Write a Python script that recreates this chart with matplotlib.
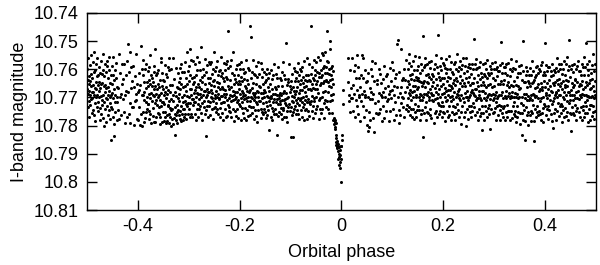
import numpy as np
import matplotlib
matplotlib.use("Agg")
import matplotlib.pyplot as plt
from matplotlib.ticker import FormatStrFormatter

# light curve, in phase bins of 0.01 starting at -0.50
# each token "dmmm": phase = bin start + d*0.001, magnitude = 10.7 + mmm/10000
bin_start = -0.50
bin_width = 0.01
lc_bins = [
    "0598 0671 1640 1735 2560 2688 3712 3625 4651 4770 5585 5693 6642 6728 7660 7548 8705 8618 9680 9755 3676",
    "0632 0702 1575 1681 2744 2656 3610 3690 4763 4540 5668 5721 6604 6785 7646 7700 8582 8671 9733 9625",
    "0690 0561 1655 1748 2620 2717 3676 3592 4700 4644 5780 5612 6668 6739 7571 7696 8652 8760 9618 9709",
    "0648 0727 1603 1690 2772 2545 3661 3718 4625 4800 5583 5682 6741 6655 7702 7610 8788 8667 9590 9731",
    "0572 0707 1665 1762 2633 2690 3745 3603 4679 4556 5721 5649 6776 6700 7620 7690 8852 8734 9651 9588",
    "0683 0740 1619 1770 2701 2556 3640 3796 4836 4672 5715 5603 6690 6752 7633 7579 8718 8662 9780 9698",
    "0668 1745 2547 3776 4700 5615 6689 7762 8580 9651",
    "0707 1636 2582 3751 4693 5790 6621 7679 8768 9570",
    "0511 1681 2760 3610 4719 5792 6668 7594 8735 9643 4540",
    "0590 1733 2663 3799 4712 5625 6547 7688 8776 9654 6708",
    "0781 1680 2612 3736 4797 5655 6760 7516 8690 9600 3674 8800",
    "0620 0693 1752 1567 2709 2646 3786 3680 4601 5716 5752 6668 6580 7697 8741 8645 9606 9725 4772",
    "0660 0722 1593 1777 2688 2749 3550 3654 4701 4758 5619 5683 6790 7660 7712 8632 9690 9766 1640",
    "0645 0738 1671 1787 2589 2695 3720 3788 4661 4530 5708 5621 6689 6770 7615 8727 8672 9754 9654 2610",
    "0700 0603 1662 1759 2690 2735 3796 3640 4709 4771 5576 5683 6730 7658 7788 8716 8612 9752 9671 5560",
    "0639 0718 1723 1784 2642 2690 3586 3768 4681 4752 5617 5791 6703 6665 7764 7629 8689 8784 9732 9594",
    "0674 0728 1758 1790 2603 2712 3771 3655 4739 4682 5800 5744 6600 6705 7777 8655 8741 9796 9692 1560",
    "0712 0559 1773 1636 2759 2834 3681 3734 4780 4596 5695 5763 6751 6663 7728 7790 8615 8704 9667 9745",
    "0644 0714 1761 1688 2597 2749 3776 3672 4580 4730 5785 5651 6697 6758 7610 8716 8781 9662 9743 2630",
    "0693 0611 1741 1769 2660 2712 3574 3758 4676 4722 5630 5778 6696 7731 7654 8758 8607 9719 6540",
    "0642 0697 1743 1590 2768 2670 3721 3621 4691 4758 5567 5672 6706 6771 7630 8705 8653 9572 9728 3530",
    "0627 0686 1718 1645 2759 2583 3674 3715 4780 4620 5665 5700 6558 6741 7683 7604 8724 8654 9768 9688",
    "0662 0707 1575 1742 2637 2688 3731 3604 4672 4520 5754 5698 6626 6721 7645 7780 8690 8598 9733 9676",
    "0619 0713 1676 1758 2563 2652 3700 3744 4837 4610 5690 5730 6671 6585 7769 7631 8712 8680 9650 9576",
    "0682 0729 1630 1583 2716 2762 3655 3700 4574 4673 5741 5618 6702 6685 7643 7777 8600 8712 9638 9739",
    "0540 0661 1703 1735 2606 2690 3752 3677 4594 4721 5646 5570 6741 6700 7620 7662 8760 8689 9607 9703",
    "0649 0705 1671 1768 2602 2739 3694 3624 4558 4720 5663 5754 6696 6614 7781 7671 8631 8716 9579 9688",
    "0717 0641 1602 1700 2742 2674 3583 3769 4689 4627 5709 5765 6636 6572 7463 7728 8661 8597 9701 9748",
    "0672 0736 1590 1690 2753 2638 3712 3569 4664 4769 5613 5695 6740 6676 7538 7710 8651 8784 9690 9622",
    "0705 0634 1682 1750 2600 2697 3767 3644 4717 4584 5681 5741 6622 6708 7773 7653 8580 8724 9670 9642",
    "0601 0689 1732 1652 2704 2780 3627 3576 4676 4739 5715 5642 6694 6598 7755 7683 8636 8707 9615 9773",
    "0659 0738 1690 1610 2780 2668 3701 3568 4744 4639 5678 5712 6595 6766 7654 7697 8731 9682 9604",
    "0446 0675 1712 1762 2631 2698 3487 3735 4666 4610 5757 5701 6569 6684 7736 7650 8693 8778 9617 9711",
    "0700 0746 1621 1686 2765 2589 3718 3652 4676 4787 5627 5725 6700 6573 7680 7744 8660 9714 9618",
    "0714 0662 1577 1743 2685 2774 3629 3704 4751 4600 5686 5719 6653 6758 7609 7700 8742 8675 9646",
    "0682 0753 1640 1716 2772 2616 3694 3730 4598 4763 5664 5697 6745 6630 7712 7678 8615 8815 9702",
    "0651 0726 1694 1768 2603 2701 3739 3670 4782 4635 5717 5622 6749 6689 7580 8706 8760 9662",
    "0740 0689 1617 1716 2669 2758 3834 3705 4630 4690 5767 5724 6661 6593 7704 7751 8690 9631 9723",
    "0683 0712 1759 1638 2692 2737 3611 3776 4708 4661 5739 5573 6685 6744 7620 7711 8768 8679 9707",
    "0719 0634 1686 1769 2726 2507 3657 3749 4702 4788 5634 5698 6733 6647 7722 7581 8680 8747 9659",
    "0733 0672 1841 1641 2712 2762 3618 3696 4751 4664 5841 5717 6596 6742 7678 7700 8643 8731 9606 9689",
    "0711 0633 1760 1678 2610 2721 3662 3745 4701 4577 5758 5641 6686 6727 7622 7777 8675 8599 9710 9652",
    "0640 0702 1744 1607 2673 2768 3717 3591 4626 4697 5736 5648 6722 6780 7572 7663 8711 8637 9744 9680",
    "0619 0694 1743 1661 2716 2559 3642 3778 4706 4620 5672 5749 6638 6717 7581 7765 8670 8722 9642",
    "0447 0673 1616 1712 2652 2750 3592 3695 4731 4630 5666 5773 6713 6568 7639 7702 8757 8620 9670 9604",
    "0652 0700 1575 1740 2610 2670 3731 3642 4555 4683 5777 5628 6708 6612 7741 7655 8566 8701 9626 9755",
    "0602 0650 1700 1544 2621 2742 3680 3597 4548 4648 5720 5641 6587 6774 7615 7678 8710 8540 9642 9733",
    "0638 0593 1570 1714 2463 2615 3645 3741 4576 4680 5617 5757 6600 6661 7530 7712 8499 8638 9595 9690",
    "0620 0662 1708 1588 2634 2755 3689 3779 4608 4651 5781 6772 6795 7806 7788 8779 8812 9858 9833 9790",
    "0846 0869 1880 1862 2855 2877 3873 3890 4864 4920 5901 5878 6940 6912 7886 7931 8950 8905 9999 9871",
    "0873 0918 1852 1833 3674 3724",
    "3645 4690 5712 6604 7752 8668 9701 2560",
    "0560 1702 2655 3748 4607 5688 6770 7584 8710 9631",
    "0675 1730 2593 3758 4690 5631 6785 7664 8712 9620 0548 5700",
    "0550 1688 2732 3633 4770 5677 6602 7700 8745 9645 2560 7690",
    "0797 1641 2700 3613 4752 5807 6668 7705 8600 9680 3820 7781",
    "0706 1624 2775 3689 4822 5641 6720 7578 8757 9653 1570",
    "0640 1712 2758 3598 4685 5741 6617 7692 8650 9785 4755",
    "0700 1636 2732 3590 4773 5668 6698 7750 8625 9712 2680",
    "0618 1705 2660 3785 4688 5596 6748 7641 8702 9574 6676",
    "0675 1740 2604 3692 4780 5630 6717 7618 8762 9511 4660",
    "0663 1700 2496 3745 4610 5761 6683 7527 8721 9638 3790 8662",
    "0698 1633 2736 3771 4600 5680 6740 7567 8663 9726 1703 5640",
    "0642 0704 1598 1750 2683 2651 3735 3578 4690 4622 5762 5674 6587 6709 7635 7741 8680 9617 9771 3545",
    "0659 0743 1570 1700 2637 2776 3676 3602 4723 4658 5554 5752 6690 6627 7771 7700 8602 8672 9745 9640",
    "0630 0729 1664 1587 2744 2700 3641 3556 4687 4780 5612 5710 6646 6758 7690 7583 8745 8660 9604 9710",
    "0842 0482 1650 1700 2592 2756 3688 3641 4560 4735 5664 5586 6780 6688 7622 7717 8645 8752 9583 9690",
    "0616 0680 1757 1649 2574 2711 3700 3626 4764 4670 5595 5742 6683 6572 7774 7634 8708 8617 9693 9658",
    "0647 0712 1623 1690 2792 2600 3668 3754 4580 4705 5680 5551 6748 6636 7593 7702 8656 8770 9612 9720",
    "0480 0689 1628 1726 2760 2669 3588 3748 4700 4639 5562 5730 6661 6603 7770 7689 8716 8633 9577 9751",
    "0651 0732 1584 1685 2756 2630 3700 3597 4783 4668 5615 5714 6679 6565 7750 7642 8598 8708 9675 9770",
    "0690 0626 1731 1656 2553 2761 3630 3700 4673 4598 5782 5660 6712 6575 7666 7752 8611 8696 9650 9732",
    "0617 0705 1759 1640 2681 2582 3734 3655 4573 4780 5632 5700 6756 6600 7688 7547 8725 8643 9690 9606",
    "0677 0746 1592 1672 2768 2703 3625 3570 4711 4650 5601 5793 6690 6752 7638 7586 8730 8659 9561 9704",
    "0649 0715 1613 1770 2684 2588 3752 3661 4633 4700 5800 5560 6678 6605 7741 7697 8644 8592 9710 9778",
    "0700 0628 1732 1581 2655 2752 3596 3690 4768 4681 5617 5729 6582 6673 7750 7648 8686 8601 9720 9649",
    "0493 0690 1630 1735 2582 2669 3763 3695 4600 4710 5564 5672 6752 6645 7595 7701 8658 8782 9620 9701",
    "0678 0741 1592 1690 2766 2636 3703 3574 4655 4757 5612 5711 6676 6816 7628 7730 8580 8678 9754 9645",
    "0702 0617 1655 1780 2578 2730 3685 3623 4748 4601 5662 5710 6630 6771 7568 7700 8613 8690 9738 9656",
    "0620 0726 1687 1760 2587 2653 3812 3705 4615 4691 5742 5598 6664 6578 7710 7754 8632 8688 9600 9702",
    "0658 0751 1574 1690 2737 2640 3715 3600 4779 4680 5625 5731 6702 6592 7654 7761 8608 8696 9727",
    "0690 0605 1746 1652 2584 2780 3690 3505 4731 4642 5579 5756 6680 6613 7703 7738 8652 8769 9593",
    "0730 0640 1591 1780 2694 2612 3752 3679 4583 4703 5771 5657 6622 6728 7696 7578 8747 8645 9684",
    "0663 0747 1625 1702 2781 2600 3696 3565 4750 4655 5700 5608 6681 6775 7595 7730 8660 9700 9758",
    "0643 0718 1765 1684 2601 2749 3657 3700 4570 4789 5688 5626 6732 6770 7615 7701 8659 8753 9590",
    "0700 0670 1756 1612 2793 2668 3720 3584 4835 4757 5640 5699 6781 6608 7726 7500 8647 8745 9689",
    "0853 0701 1646 1783 2620 2736 3689 3592 4761 4663 5607 5711 6798 6642 7694 7751 8620 8710 9649",
    "0597 0702 1761 1658 2693 2749 3621 3783 4710 4650 5570 5756 6687 6608 7728 7645 8785 8690 9640 9855",
    "0700 0629 1742 1667 2592 2770 3696 3622 4751 4665 5588 5730 6654 6762 7702 7613 8677 8750 9601",
    "0759 0670 1606 1712 2780 2648 3703 3584 4673 4754 5576 5665 6737 6788 7620 7700 8641 8722 9610",
    "0508 0662 1731 1620 2690 2762 3586 3683 4743 4650 5606 5702 6671 6777 7593 7731 8640 8690 9745 9594",
    "0661 0710 1608 1760 2676 2625 3724 3581 4783 4680 5620 5712 6648 6809 7703 7604 8657 8754 9609 9690",
    "0645 0742 1680 1597 2780 2683 3639 3562 4700 4748 5653 5607 6720 6675 7582 7765 8690 8634 9731 9661",
    "0690 0601 1722 1650 2756 2580 3671 3730 4616 4786 5700 5643 6745 6598 7680 7570 8768 8707 9621 9662",
    "0655 0739 1581 1690 2767 2638 3712 3555 4660 4751 5603 5681 6780 6641 7497 7719 8590 8680 9755 9690",
    "0627 0711 1820 1673 2600 2760 3690 3650 4734 4584 5663 5754 6611 6708 7656 7762 8580 8691 9728 9636",
    "0701 0640 1749 1598 2681 2780 3590 3703 4645 4737 5678 5570 6752 6660 7608 7705 8653 8771 9607 9690",
    "0656 0735 1622 1700 2781 2580 3688 3641 4745 4670 5592 5730 6690 6771 7620 7557 8718 8662 9755 9592",
    "0508 0690 1646 1732 2583 2755 3657 3710 4620 4787 5696 5602 6741 6650 7700 7571 8640 8728 9780 9670",
    "0666 0728 1612 1700 2767 2635 3695 3584 4730 4660 5547 5751 6678 6605 7776 7701 8642 8749 9583 9690",
]

xticks = [-0.4, -0.2, 0, 0.2, 0.4]
yticks = [10.74, 10.75, 10.76, 10.77, 10.78, 10.79, 10.80, 10.81]

phase, mag = [], []
for i, row in enumerate(lc_bins):
    for tok in row.split():
        phase.append(bin_start + i * bin_width + int(tok[0]) * 0.001)
        mag.append(10.7 + int(tok[1:]) / 10000)

plt.rcParams['font.family'] = ['Liberation Sans', 'DejaVu Sans']

fig = plt.figure(figsize=(6, 2.65), dpi=100)
ax = fig.add_axes([0.145, 0.2075, 0.848, 0.744])
ax.plot(phase, mag, 'o', color='black', ms=2.2, mew=0)

ax.set_xlim(-0.5, 0.5)
ax.set_ylim(10.81, 10.74)
ax.set_xticks(xticks)
ax.set_yticks(yticks)
ax.xaxis.set_major_formatter(FormatStrFormatter('%g'))
ax.yaxis.set_major_formatter(FormatStrFormatter('%g'))
ax.tick_params(direction='in', length=7, width=1, top=True, right=True,
               labelsize=13, pad=6)
for s in ax.spines.values():
    s.set_linewidth(1)

ax.set_xlabel('Orbital phase', fontsize=13, labelpad=6)
ax.set_ylabel('I-band magnitude', fontsize=13)

fig.savefig('out.png', dpi=100)
